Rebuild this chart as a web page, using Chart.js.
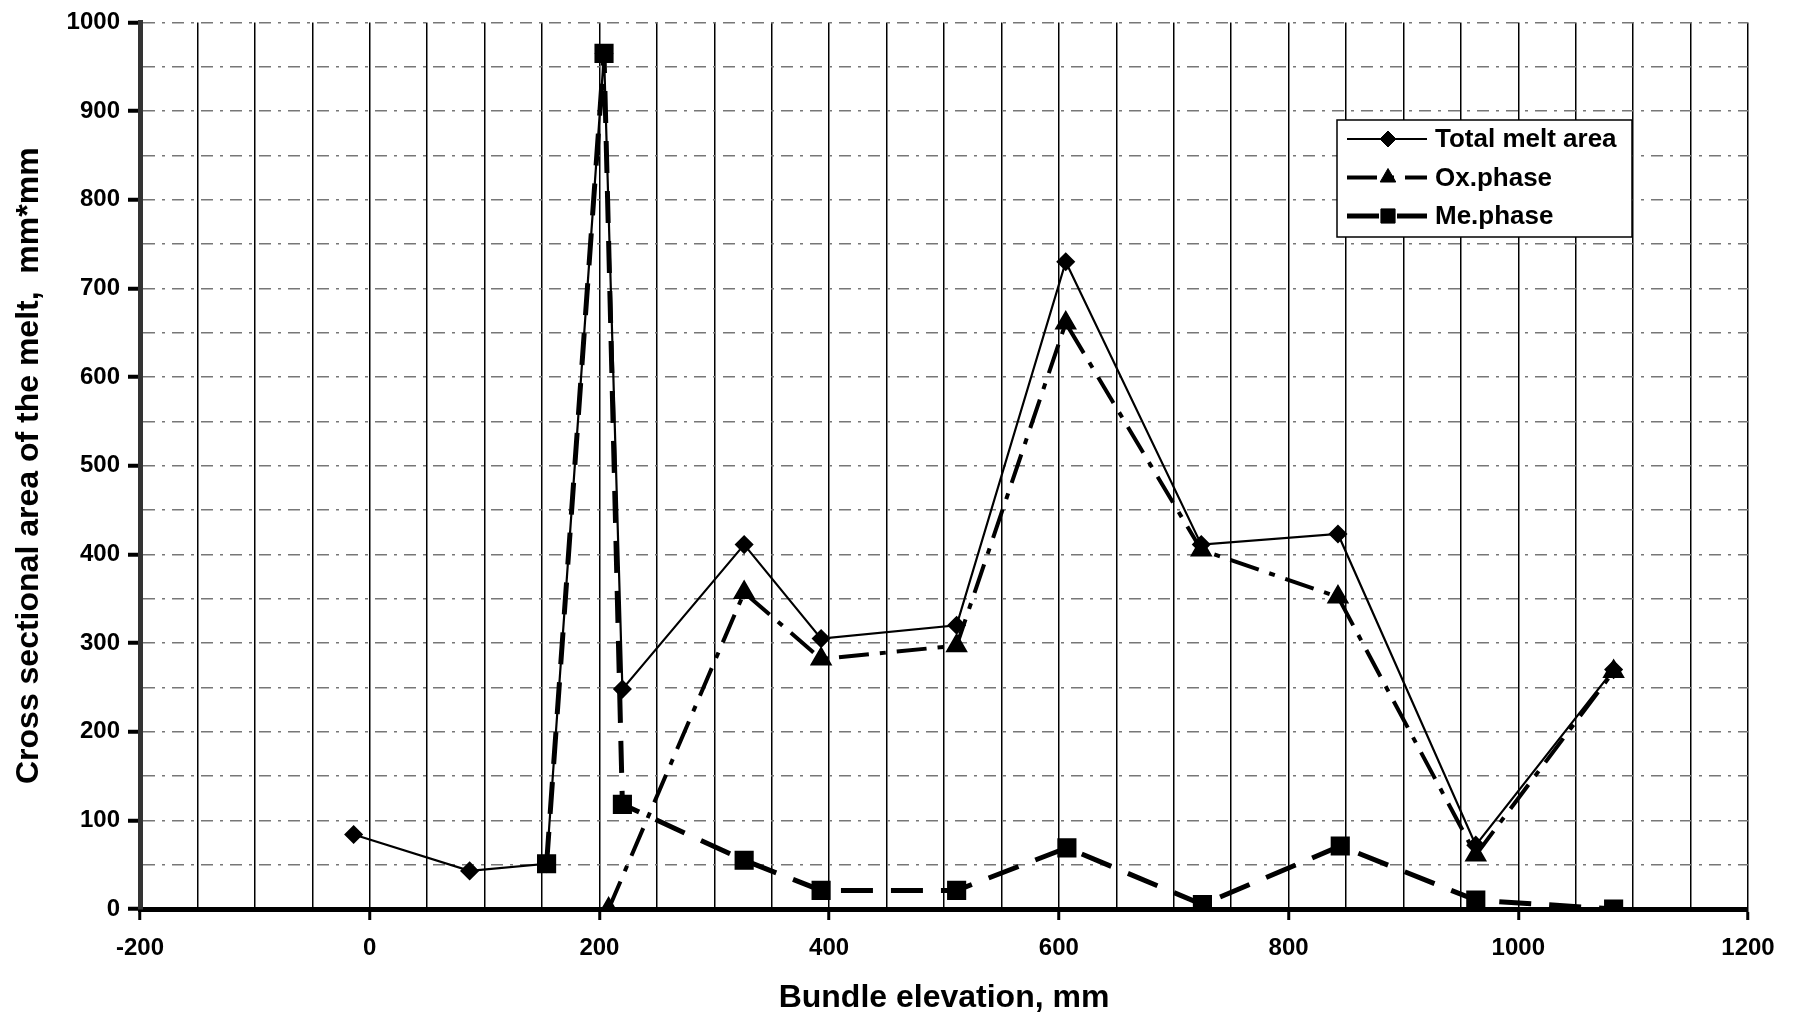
<!DOCTYPE html>
<html>
<head>
<meta charset="utf-8">
<title>Cross sectional area of the melt</title>
<script src="https://cdn.jsdelivr.net/npm/chart.js@4.4.1/dist/chart.umd.min.js"></script>
<style>
  html, body { margin: 0; padding: 0; background: #fff; }
  #wrap { width: 1798px; height: 1019px; }
</style>
</head>
<body>
<div id="wrap"><canvas id="meltChart" width="1798" height="1019"></canvas></div>
<script>
// data (x = bundle elevation, mm; y = area, mm*mm)
const totalX = [-14, 87, 154, 204, 220, 326, 393, 511, 606, 724, 843, 963, 1083];
const totalY = [84, 43, 51, 965, 248, 411, 305, 320, 730, 411, 423, 72, 270];

const oxX = [208, 326, 393, 511, 606, 724, 843, 963, 1083];
const oxY = [0, 357, 282, 297, 661, 405, 352, 61, 268];

const meX = [154, 204, 220, 326, 393, 511, 607, 725, 845, 963, 1083];
const meY = [51, 965, 118, 55, 21, 21, 69, 5, 71, 10, 0];

const seriesNames = ['Total melt area', 'Ox.phase', 'Me.phase'];

const xTicks = [-200, 0, 200, 400, 600, 800, 1000, 1200];
const yTicks = [0, 100, 200, 300, 400, 500, 600, 700, 800, 900, 1000];

const FONT = '"Liberation Sans", Arial, Helvetica, sans-serif';
Chart.defaults.font.family = FONT;
Chart.defaults.color = '#000';

function toPoints(xs, ys) {
  return xs.map((x, i) => ({ x: x, y: ys[i] }));
}

// legend drawn like the original: line + marker + text in a framed box
const boxLegend = {
  id: 'boxLegend',
  afterDraw(chart) {
    const c = chart.ctx;
    const left = 1337, top = 120, w = 295, h = 117;
    c.save();
    c.fillStyle = '#fff';
    c.fillRect(left, top, w, h);
    c.strokeStyle = '#000';
    c.lineWidth = 1.5;
    c.strokeRect(left, top, w, h);
    chart.data.datasets.forEach((ds, i) => {
      const y = top + 19 + i * 38.5;
      c.save();
      c.strokeStyle = ds.borderColor;
      c.lineWidth = ds.borderWidth;
      c.setLineDash(ds.borderDash || []);
      c.beginPath();
      c.moveTo(left + 10, y);
      c.lineTo(left + 90, y);
      c.stroke();
      c.restore();
      c.fillStyle = ds.pointBackgroundColor;
      c.strokeStyle = ds.pointBorderColor;
      c.lineWidth = 1;
      Chart.helpers.drawPoint(c, { pointStyle: ds.pointStyle, radius: ds.pointRadius, rotation: 0, borderWidth: 1 }, left + 51, y);
      c.font = 'bold 26px ' + FONT;
      c.fillStyle = '#000';
      c.textBaseline = 'middle';
      c.fillText(seriesNames[i], left + 98, y + 1);
    });
    c.restore();
  }
};

const ctx = document.getElementById('meltChart').getContext('2d');

new Chart(ctx, {
  type: 'line',
  data: {
    datasets: [
      {
        label: seriesNames[0],
        data: toPoints(totalX, totalY),
        borderColor: '#000',
        borderWidth: 2.2,
        pointStyle: 'rectRot',
        pointRadius: 8,
        pointBackgroundColor: '#000',
        pointBorderColor: '#000',
        tension: 0
      },
      {
        label: seriesNames[1],
        data: toPoints(oxX, oxY),
        borderColor: '#000',
        borderWidth: 4,
        borderDash: [30, 11, 6, 11],
        pointStyle: 'triangle',
        pointRadius: 9,
        pointBackgroundColor: '#000',
        pointBorderColor: '#000',
        tension: 0
      },
      {
        label: seriesNames[2],
        data: toPoints(meX, meY),
        borderColor: '#000',
        borderWidth: 5,
        borderDash: [32, 18],
        pointStyle: 'rect',
        pointRadius: 10,
        pointBackgroundColor: '#000',
        pointBorderColor: '#000',
        tension: 0
      }
    ]
  },
  options: {
    responsive: false,
    animation: false,
    layout: { padding: { top: 17, right: 50, bottom: 0, left: 0 } },
    plugins: {
      legend: { display: false },
      tooltip: { enabled: false }
    },
    scales: {
      x: {
        type: 'linear',
        min: xTicks[0],
        max: xTicks[xTicks.length - 1],
        afterFit(scale) { scale.height = 110; },
        ticks: {
          stepSize: 50,
          autoSkip: false,
          maxRotation: 0,
          padding: 14,
          font: { size: 24, weight: 'bold' },
          callback: v => (xTicks.includes(v) ? v : '')
        },
        grid: {
          color: '#000',
          lineWidth: 1.5,
          tickLength: 11,
          tickWidth: 3,
          tickColor: c => (xTicks.includes(c.tick.value) ? '#000' : 'rgba(0,0,0,0)')
        },
        border: { color: '#000', width: 5 },
        title: {
          display: true,
          text: 'Bundle elevation, mm',
          font: { size: 32, weight: 'bold' },
          padding: { top: 0, bottom: 2 }
        }
      },
      y: {
        min: yTicks[0],
        max: yTicks[yTicks.length - 1],
        afterFit(scale) { scale.width = 140; },
        ticks: {
          stepSize: 50,
          autoSkip: false,
          padding: 8,
          font: { size: 24, weight: 'bold' },
          callback: v => (yTicks.includes(v) ? v : '')
        },
        grid: {
          color: '#777',
          lineWidth: 1.5,
          tickLength: 12,
          tickWidth: 4,
          tickColor: c => (yTicks.includes(c.tick.value) ? '#000' : 'rgba(0,0,0,0)')
        },
        border: { color: '#333', width: 5, dash: [12, 7, 3, 7] },
        title: {
          display: true,
          text: 'Cross sectional area of the melt,  mm*mm',
          font: { size: 32, weight: 'bold' },
          padding: { top: 10, bottom: 0 }
        }
      }
    }
  },
  plugins: [boxLegend]
});
</script>
</body>
</html>
